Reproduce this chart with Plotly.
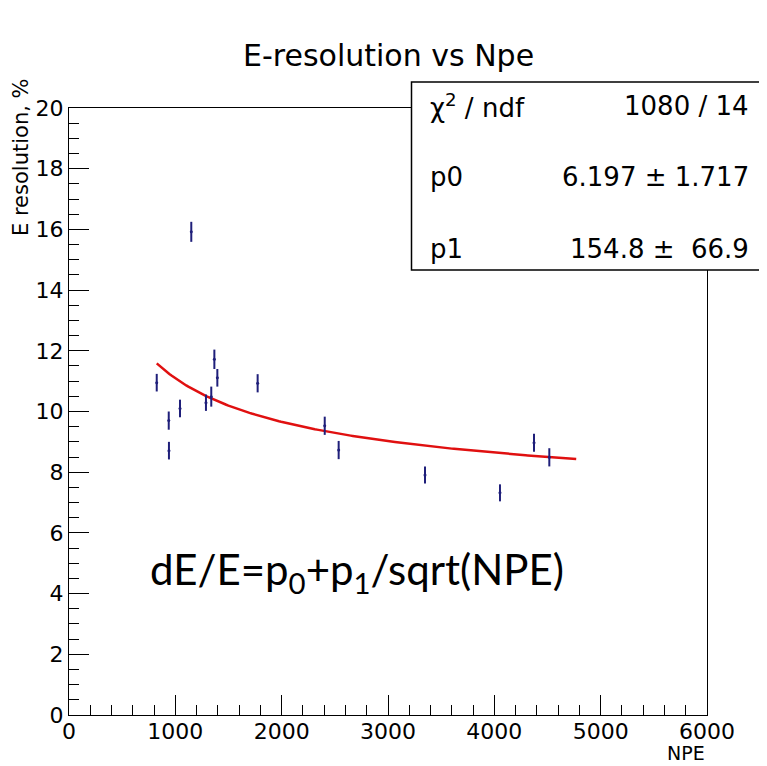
import numpy as np
import plotly.graph_objects as go

# ---- data ----
npe = [825, 938, 940, 1044, 1150, 1288, 1338, 1367, 1395, 1774, 2405, 2536, 3348, 4053, 4373, 4517]
resolution = [10.95, 9.70, 8.71, 10.10, 15.92, 10.29, 10.49, 11.72, 11.11, 10.93, 9.53, 8.73, 7.91, 7.32, 8.97, 8.49]
res_err = [0.29, 0.30, 0.29, 0.29, 0.33, 0.27, 0.33, 0.32, 0.29, 0.30, 0.30, 0.30, 0.28, 0.28, 0.30, 0.30]

# fit parameters (shown in stats box)
p0 = 6.197
p1 = 154.8
fit_range = [825, 4770]

stats_labels = ["χ<sup>2</sup> / ndf", "p0", "p1"]
stats_values = ["1080 / 14", "6.197 ± 1.717", "154.8 ±\u00a0\u00a066.9"]

x_ticks = [0, 1000, 2000, 3000, 4000, 5000, 6000]
y_ticks = [0, 2, 4, 6, 8, 10, 12, 14, 16, 18, 20]

ROOT_FONT = "DejaVu Sans"
NAVY = "#1f1f7a"

# page body adds an 8px offset; work in screen pixels and subtract it
OFF = 8
W, H = 767 - OFF, 766 - OFF
PL, PR, PT, PB = 69, 707, 108, 715   # plot frame in screen pixels
pw, ph = PR - PL, PB - PT


def px(x):
    return (x - PL) / pw


def py(y):
    return 1 - (y - PT) / ph


fig = go.Figure()

xf = np.linspace(fit_range[0], fit_range[1], 200)
yf = p0 + p1 / np.sqrt(xf)
fig.add_trace(go.Scatter(x=xf, y=yf, mode="lines",
                         line=dict(color="#e01010", width=2.5),
                         hoverinfo="skip", showlegend=False))

fig.add_trace(go.Scatter(
    x=npe, y=resolution, mode="markers",
    marker=dict(color=NAVY, size=3),
    error_y=dict(type="data", array=res_err, color=NAVY, thickness=2, width=0),
    showlegend=False))

axis_common = dict(
    showline=True, linecolor="black", linewidth=1, mirror=True,
    ticks="inside", ticklen=20, tickwidth=1, tickcolor="black",
    showgrid=False, zeroline=False,
    tickfont=dict(family=ROOT_FONT, size=22, color="black"),
)

fig.update_xaxes(range=[0, 6000], tickvals=x_ticks, ticklabelstandoff=-3,
                 minor=dict(dtick=200, ticks="inside", ticklen=10, tickcolor="black", showgrid=False),
                 **axis_common)
fig.update_yaxes(range=[0, 20], tickvals=y_ticks,
                 minor=dict(dtick=0.5, ticks="inside", ticklen=10, tickcolor="black", showgrid=False),
                 **axis_common)

shapes = [
    dict(type="rect", xref="paper", yref="paper",
         x0=px(411.5), x1=px(765), y0=py(270), y1=py(82),
         line=dict(color="black", width=1.5), fillcolor="white", layer="above"),
]

annotations = [
    dict(text="E-resolution vs Npe", xref="paper", yref="paper",
         x=px(388), y=py(56), xanchor="center", yanchor="middle",
         showarrow=False, font=dict(family=ROOT_FONT, size=30, color="black")),
    dict(text="E resolution, %", xref="paper", yref="paper",
         x=px(21), y=py(157), xanchor="center", yanchor="middle", textangle=-90,
         showarrow=False, font=dict(family=ROOT_FONT, size=21, color="black")),
    dict(text="NPE", xref="paper", yref="paper",
         x=px(707), y=py(766), xanchor="right", yanchor="bottom",
         showarrow=False, font=dict(family=ROOT_FONT, size=19, color="black")),
    dict(text="dE/E=p<sub>0</sub>+p<sub>1</sub>/sqrt(NPE)", xref="paper", yref="paper",
         x=px(148), y=py(572), xanchor="left", yanchor="middle",
         showarrow=False, font=dict(family="Lato", size=42, color="black")),
]

row_y = [106, 177, 249]
for lab, val, yy in zip(stats_labels, stats_values, row_y):
    annotations.append(dict(text=lab, xref="paper", yref="paper", x=px(428), y=py(yy),
                            xanchor="left", yanchor="middle", showarrow=False,
                            font=dict(family=ROOT_FONT, size=26, color="black")))
    annotations.append(dict(text=val, xref="paper", yref="paper", x=px(751), y=py(yy),
                            xanchor="right", yanchor="middle", showarrow=False,
                            font=dict(family=ROOT_FONT, size=26, color="black")))

fig.update_layout(
    width=W, height=H,
    margin=dict(l=PL - OFF, r=767 - PR, t=PT - OFF, b=766 - PB),
    paper_bgcolor="white", plot_bgcolor="white",
    shapes=shapes, annotations=annotations,
    showlegend=False,
)

fig.write_html("out.html")
